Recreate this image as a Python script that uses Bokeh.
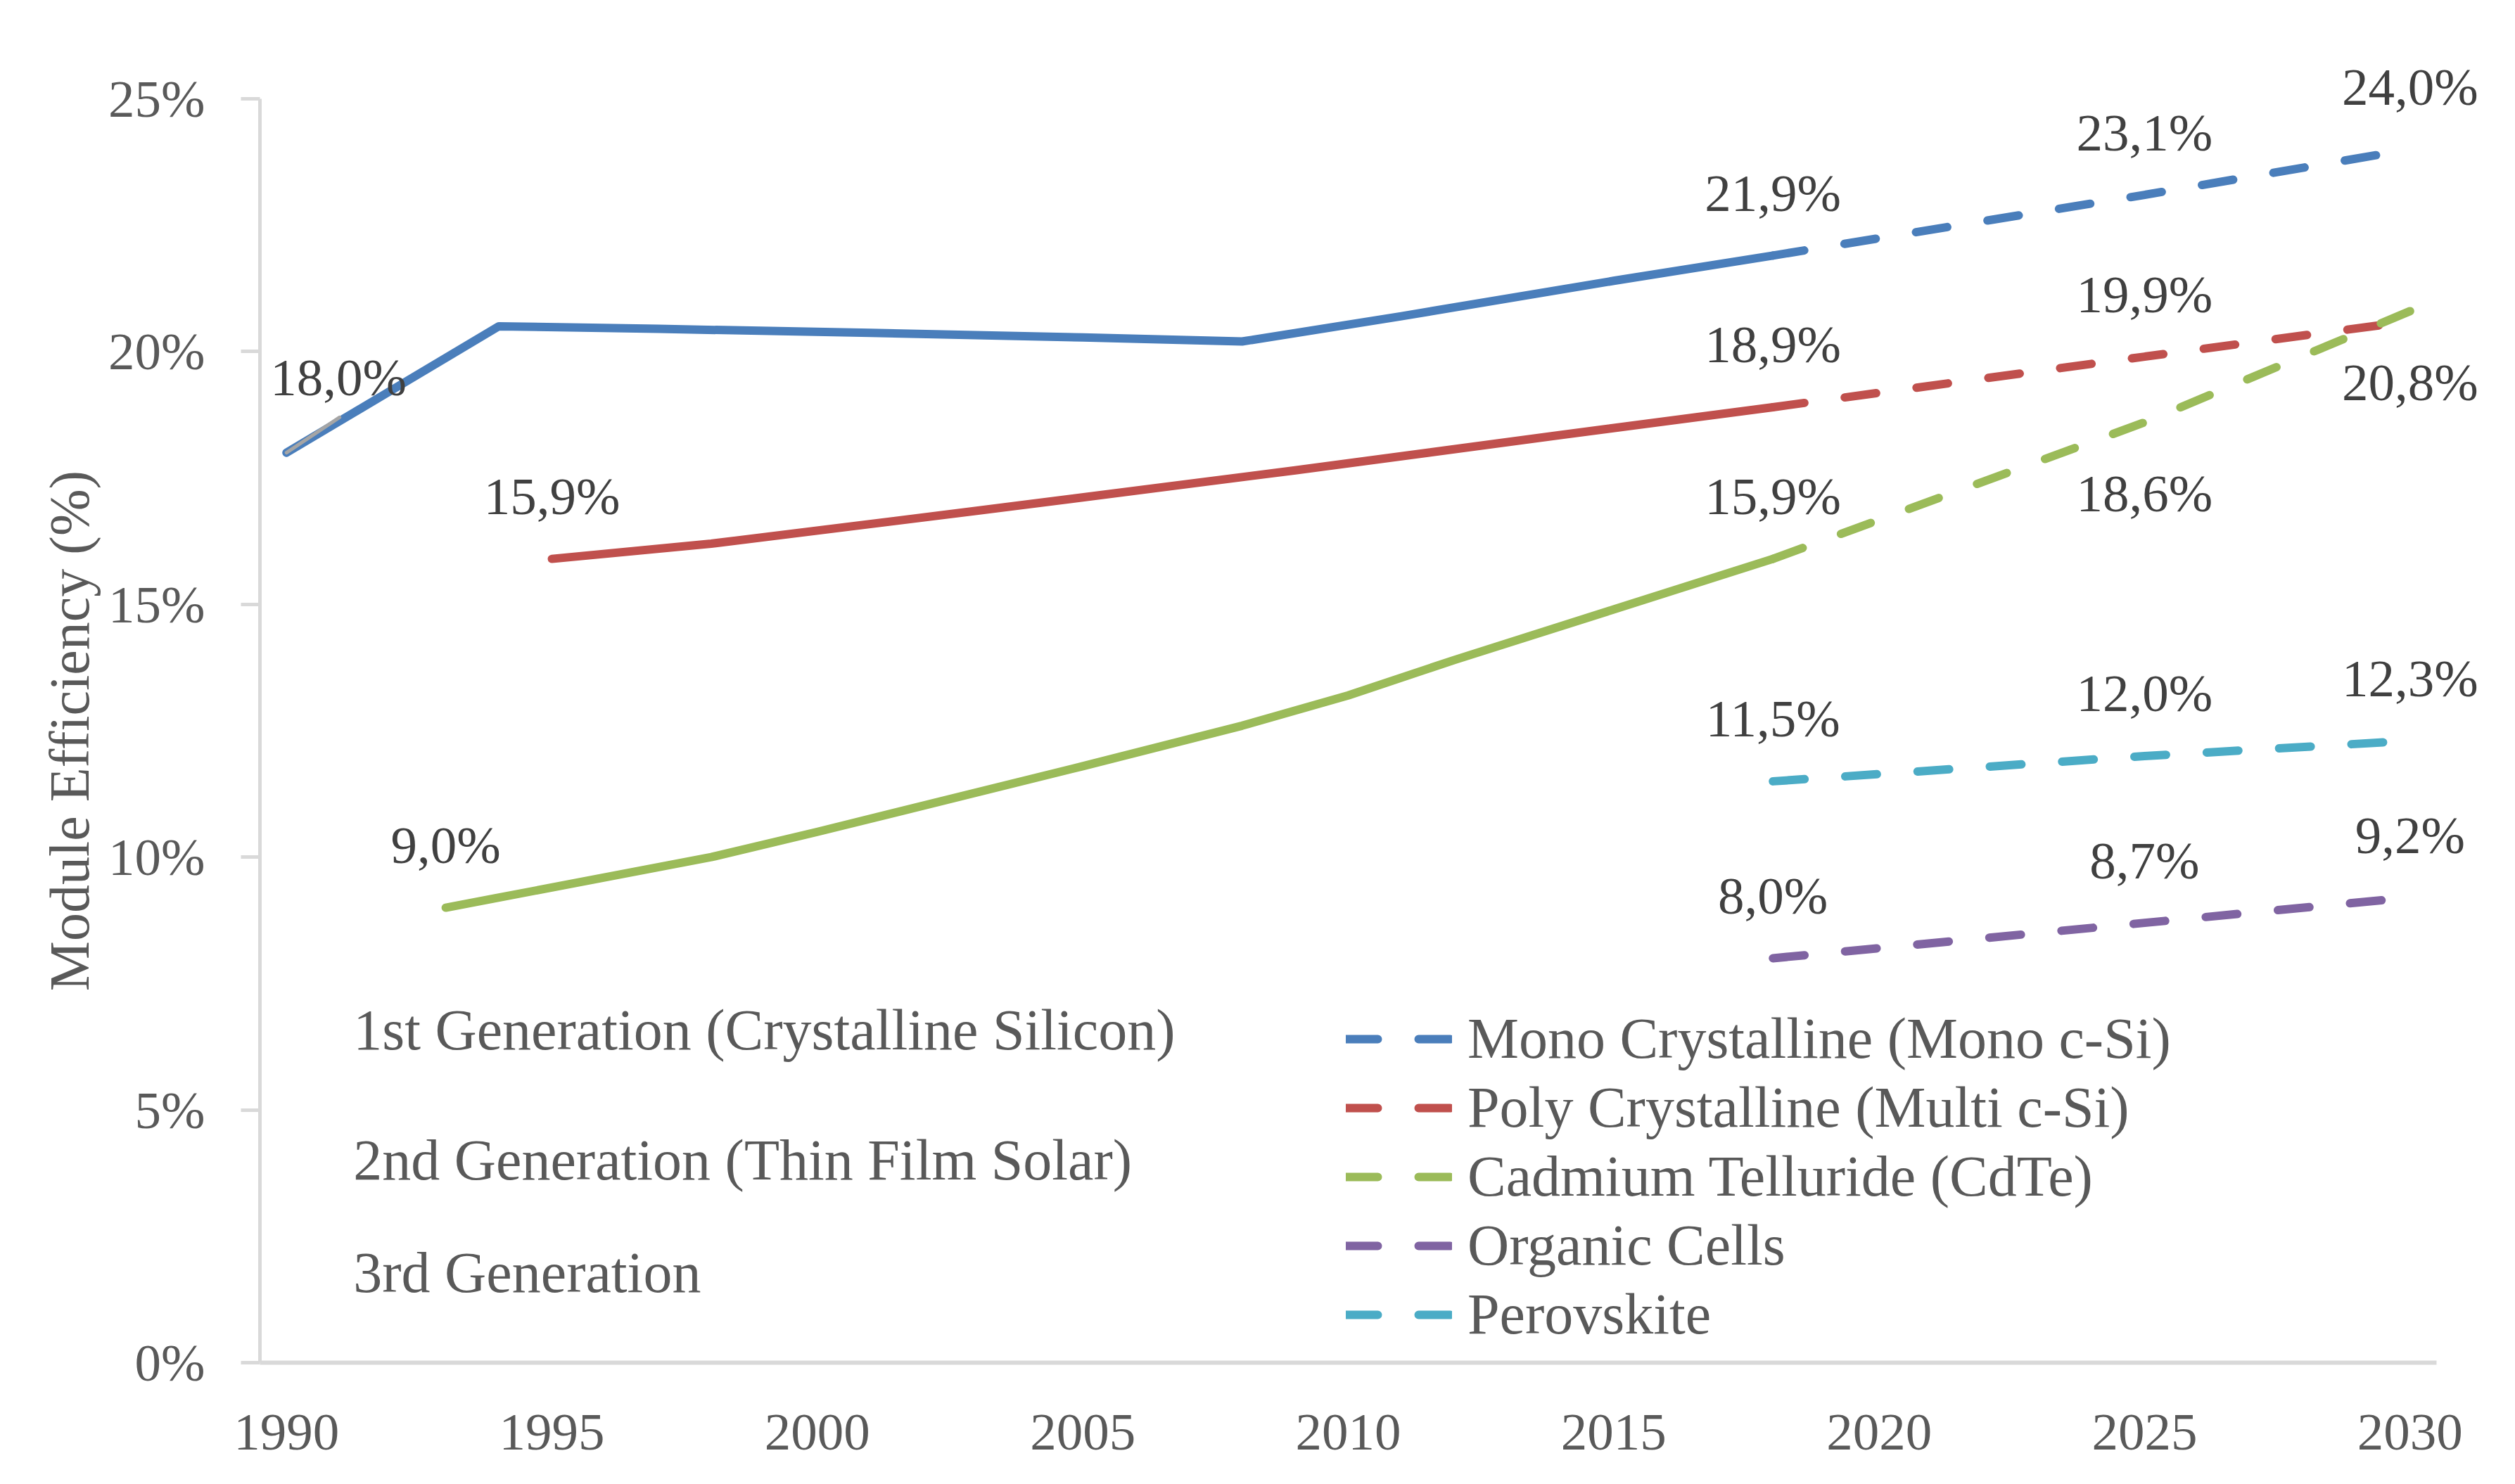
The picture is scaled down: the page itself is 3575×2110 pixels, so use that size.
from bokeh.plotting import figure
from bokeh.models import Legend, LegendItem, FixedTicker, ColumnDataSource, Label, LabelSet, Range1d
from bokeh.embed import file_html
from bokeh.resources import INLINE

# ---------------- data ----------------
mono_years = [1990, 1994, 1997, 2001, 2005, 2008, 2011, 2015, 2018]
mono_vals = [18.0, 20.5, 20.45, 20.37, 20.28, 20.2, 20.7, 21.4, 21.9]
mono_proj_years = [2018, 2025, 2030]
mono_proj_vals = [21.9, 23.1, 24.0]

poly_years = [1995, 1998, 2003, 2009, 2014, 2018]
poly_vals = [15.9, 16.2, 16.85, 17.65, 18.35, 18.9]
poly_proj_years = [2018, 2025, 2030]
poly_proj_vals = [18.9, 19.9, 20.6]

cdte_years = [1993, 1998, 2000, 2005, 2008, 2010, 2012, 2015, 2018]
cdte_vals = [9.0, 10.0, 10.5, 11.8, 12.6, 13.2, 13.9, 14.9, 15.9]
cdte_proj_years = [2018, 2025, 2030]
cdte_proj_vals = [15.9, 18.6, 20.8]

organic_years = [2018, 2025, 2030]
organic_vals = [8.0, 8.7, 9.2]

perov_years = [2018, 2025, 2030]
perov_vals = [11.5, 12.0, 12.3]

first_gen_years = [1990, 1991]
first_gen_vals = [18.0, 18.7]

series_names = ["Mono Crystalline (Mono c-Si)", "Poly Crystalline (Multi c-Si)",
                "Cadmium Telluride (CdTe)", "Organic Cells", "Perovskite"]
generation_labels = ["1st Generation (Crystalline Silicon)",
                     "2nd Generation (Thin Film Solar)", "3rd Generation"]
y_title = "Module Efficiency (%)"

label_years = [1990, 2018, 2025, 2030, 1995, 2018, 2025, 1993, 2018, 2025, 2030,
               2018, 2025, 2030, 2018, 2025, 2030]
label_vals = [18.0, 21.9, 23.1, 24.0, 15.9, 18.9, 19.9, 9.0, 15.9, 18.6, 20.8,
              8.0, 8.7, 9.2, 11.5, 12.0, 12.3]
label_side = ["above_right", "above", "above", "above", "above", "above", "above",
              "above", "above", "below", "below", "above", "above", "above",
              "above", "above", "above"]

x_ticks = [1990, 1995, 2000, 2005, 2010, 2015, 2020, 2025, 2030]
y_ticks = [0, 5, 10, 15, 20, 25]

# ---------------- style / layout ----------------
FONT = "Liberation Serif"
BLUE, RED, GREEN, PURPLE, CYAN, GRAY = "#4A7EBB", "#C0504D", "#9BBB59", "#8064A2", "#4BACC6", "#A5A5A5"
AXIS = "#D9D9D9"
TXT = "#595959"
LW = 12
DASH = "45 58"

W, H = 3559, 2094
AX_LEFT, AX_RIGHT, AX_TOP, AX_BOTTOM = 369, 3463, 140, 1937   # axis box in px
X0, X1, Y0, Y1 = 1989.5, 2030.5, 0, 25
FRAME_TOP = 40
px_per_x = (AX_RIGHT - AX_LEFT) / (X1 - X0)
px_per_y = (AX_BOTTOM - AX_TOP) / (Y1 - Y0)
x_end = X1 + (W - AX_RIGHT) / px_per_x
y_end = Y1 + (AX_TOP - FRAME_TOP) / px_per_y

p = figure(width=W, height=H, output_backend="svg", toolbar_location=None,
           x_range=Range1d(X0, x_end), y_range=Range1d(Y0, y_end),
           min_border_left=AX_LEFT, min_border_top=FRAME_TOP, min_border_right=0,
           min_border_bottom=H - AX_BOTTOM)
p.outline_line_color = None
p.grid.visible = False
p.background_fill_color = "white"

# axes
p.xaxis.ticker = FixedTicker(ticks=x_ticks)
p.yaxis.ticker = FixedTicker(ticks=y_ticks)
p.xaxis.bounds = (X0, X1)
p.yaxis.bounds = (Y0, Y1)
p.yaxis.major_label_overrides = {t: f"{t}%" for t in y_ticks}
for ax in (p.xaxis[0], p.yaxis[0]):
    ax.axis_line_color = AXIS
    ax.major_tick_line_color = AXIS
    ax.minor_tick_line_color = None
    ax.major_label_text_font = FONT
    ax.major_label_text_font_size = "75px"
    ax.major_label_text_color = TXT
p.xaxis.axis_line_width = 6
p.xaxis.major_tick_line_color = None
p.xaxis.major_tick_out = 0
p.xaxis.major_tick_in = 0
p.xaxis.major_label_standoff = 74
p.yaxis.axis_line_width = 5
p.yaxis.major_tick_line_width = 5
p.yaxis.major_tick_out = 27
p.yaxis.major_tick_in = 0
p.yaxis.major_label_standoff = 51
# trailing no-break spaces re-centre the rotated title on the 0-25 % axis span
p.yaxis.axis_label = y_title + "\u00a0" * 5
p.yaxis.axis_label_text_font = FONT
p.yaxis.axis_label_text_font_size = "80px"
p.yaxis.axis_label_text_font_style = "normal"
p.yaxis.axis_label_text_color = TXT
p.yaxis.axis_label_standoff = 8

common = dict(line_width=LW, line_cap="round", line_join="round")

# solid historical lines
p.line(mono_years, mono_vals, line_color=BLUE, **common)
p.line(poly_years, poly_vals, line_color=RED, **common)
p.line(cdte_years, cdte_vals, line_color=GREEN, **common)

# dashed projections
r_mono = p.line(mono_proj_years, mono_proj_vals, line_color=BLUE, line_dash=DASH, **common)
r_poly = p.line(poly_proj_years, poly_proj_vals, line_color=RED, line_dash=DASH, **common)
r_cdte = p.line(cdte_proj_years, cdte_proj_vals, line_color=GREEN, line_dash=DASH, **common)
r_org = p.line(organic_years, organic_vals, line_color=PURPLE, line_dash=DASH, **common)
r_per = p.line(perov_years, perov_vals, line_color=CYAN, line_dash=DASH, **common)

p.line(first_gen_years, first_gen_vals, line_color=GRAY, line_width=5, line_cap="round")

# data labels (y_offset positive = up)
offsets = {"above": (0, 89), "below": (0, -101), "above_right": (74, 107)}
src = ColumnDataSource(dict(
    x=label_years, y=label_vals,
    t=[f"{v:.1f}%".replace(".", ",") for v in label_vals],
    dx=[offsets[s][0] for s in label_side],
    dy=[offsets[s][1] for s in label_side],
))
p.add_layout(LabelSet(x="x", y="y", text="t", x_offset="dx", y_offset="dy", source=src,
                      text_font=FONT, text_font_size="75px", text_color="#404040",
                      text_align="center", text_baseline="middle"))

# generation annotations
gen_y = [6.58, 4.0, 1.78]
for txt, yy in zip(generation_labels, gen_y):
    p.add_layout(Label(x=1991.26, y=yy, text=txt, text_font=FONT, text_font_size="82px",
                       text_color=TXT, text_align="left", text_baseline="middle"))

legend = Legend(items=[LegendItem(label=n, renderers=[r]) for n, r in
                       zip(series_names, [r_mono, r_poly, r_cdte, r_org, r_per])],
                location=(1544, 19), orientation="vertical",
                glyph_width=151, glyph_height=98, label_height=98, label_standoff=22,
                spacing=0, padding=0, margin=0, border_line_color=None,
                background_fill_alpha=0,
                label_text_font=FONT, label_text_font_size="82px", label_text_color=TXT)
p.add_layout(legend)

open("out.html", "w").write(file_html(p, INLINE))
